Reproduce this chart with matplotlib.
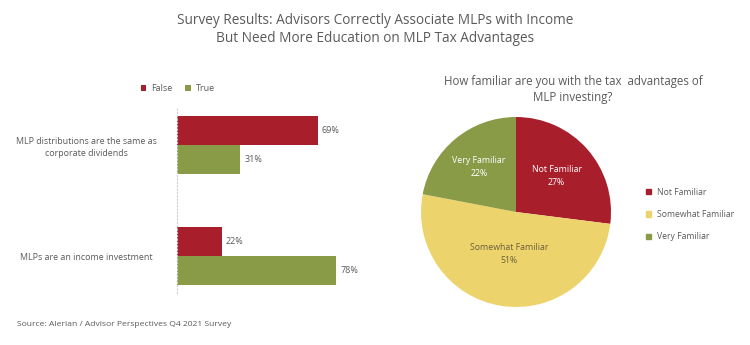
import numpy as np
import matplotlib
matplotlib.use("Agg")
import matplotlib.pyplot as plt
from matplotlib.patches import Patch

plt.rcParams['font.family'] = ['Open Sans', 'DejaVu Sans']

# bar chart data
statements = ["MLP distributions are the same as\ncorporate dividends", "MLPs are an income investment"]
false_pct = [69, 22]
true_pct = [31, 78]

# pie chart data
pie_labels = ["Not Familiar", "Somewhat Familiar", "Very Familiar"]
pie_pct = [27, 51, 22]

RED = "#A81E2B"
GREEN = "#8A9B47"
YELLOW = "#EDD36B"
TXT = "#5a5a5a"

W, H = 750, 345
fig = plt.figure(figsize=(W / 100, H / 100), dpi=100)

fig.text(0.5, 1 - 20 / H, "Survey Results: Advisors Correctly Associate MLPs with Income",
         ha="center", va="center", fontsize=9.8, color=TXT)
fig.text(0.5, 1 - 39 / H, "But Need More Education on MLP Tax Advantages",
         ha="center", va="center", fontsize=9.8, color=TXT)

# ---- bar chart
ax = fig.add_axes([177 / W, 1 - 293 / H, 204 / W, 185 / H])
h = 29 / 111
y = np.arange(len(statements))
ax.barh(y - h / 2, false_pct, height=h, color=RED, label="False")
ax.barh(y + h / 2, true_pct, height=h, color=GREEN, label="True")
for i in range(len(statements)):
    ax.text(false_pct[i] + 2, y[i] - h / 2, f"{false_pct[i]}%", va="center", ha="left",
            fontsize=6.5, color=TXT)
    ax.text(true_pct[i] + 2, y[i] + h / 2, f"{true_pct[i]}%", va="center", ha="left",
            fontsize=6.5, color=TXT)
ax.set_xlim(0, 100)
ax.set_ylim(1 + 37 / 111, -37 / 111)
ax.set_yticks(y)
ax.set_yticklabels(statements, fontsize=6.4, color=TXT, ha="center", multialignment="center",
                   linespacing=1.5)
ax.tick_params(axis="y", length=0, pad=65)
ax.set_xticks([])
for s in ["top", "right", "bottom"]:
    ax.spines[s].set_visible(False)
ax.spines["left"].set_color("#cfcfcf")
ax.spines["left"].set_linestyle((0, (1, 2)))
ax.spines["left"].set_linewidth(0.8)
ax.legend(loc="center", bbox_to_anchor=(178 / W, 1 - 89 / H), bbox_transform=fig.transFigure,
          ncol=2, frameon=False, fontsize=6.5, handlelength=0.6, handleheight=0.6,
          handletextpad=0.6, columnspacing=1.4, labelcolor=TXT)

# ---- pie chart
pax = fig.add_axes([421 / W, 1 - 307 / H, 190 / W, 190 / H])
wedges, _ = pax.pie(pie_pct, colors=[RED, YELLOW, GREEN], startangle=90, counterclock=False,
                    radius=1, wedgeprops=dict(linewidth=0))
dists = [0.57, 0.45, 0.61]
label_cols = ["white", "#6b5f3a", "white"]
for w, name, p, d, c in zip(wedges, pie_labels, pie_pct, dists, label_cols):
    ang = np.deg2rad((w.theta1 + w.theta2) / 2)
    pax.text(d * np.cos(ang), d * np.sin(ang), f"{name}\n{p}%", ha="center", va="center",
             fontsize=6.3, color=c, linespacing=1.6)
pax.set_xlim(-1, 1)
pax.set_ylim(-1, 1)
pax.set_aspect("equal")

fig.text(573 / W, 1 - 82 / H, "How familiar are you with the tax  advantages of",
         ha="center", va="center", fontsize=8.3, color=TXT)
fig.text(573 / W, 1 - 97 / H, "MLP investing?", ha="center", va="center", fontsize=8.3, color=TXT)

handles = [Patch(color=c) for c in [RED, YELLOW, GREEN]]
fig.legend(handles, pie_labels, loc="upper left", bbox_to_anchor=(638 / W, 1 - 180 / H),
           frameon=False, fontsize=6.2, handlelength=0.6, handleheight=0.6, handletextpad=0.7,
           labelspacing=1.55, labelcolor=TXT)

fig.text(17 / W, 1 - 325 / H, "Source: Alerian / Advisor Perspectives Q4 2021 Survey",
         ha="left", va="center", fontsize=6.1, color=TXT)

fig.savefig("out.png", dpi=100)
